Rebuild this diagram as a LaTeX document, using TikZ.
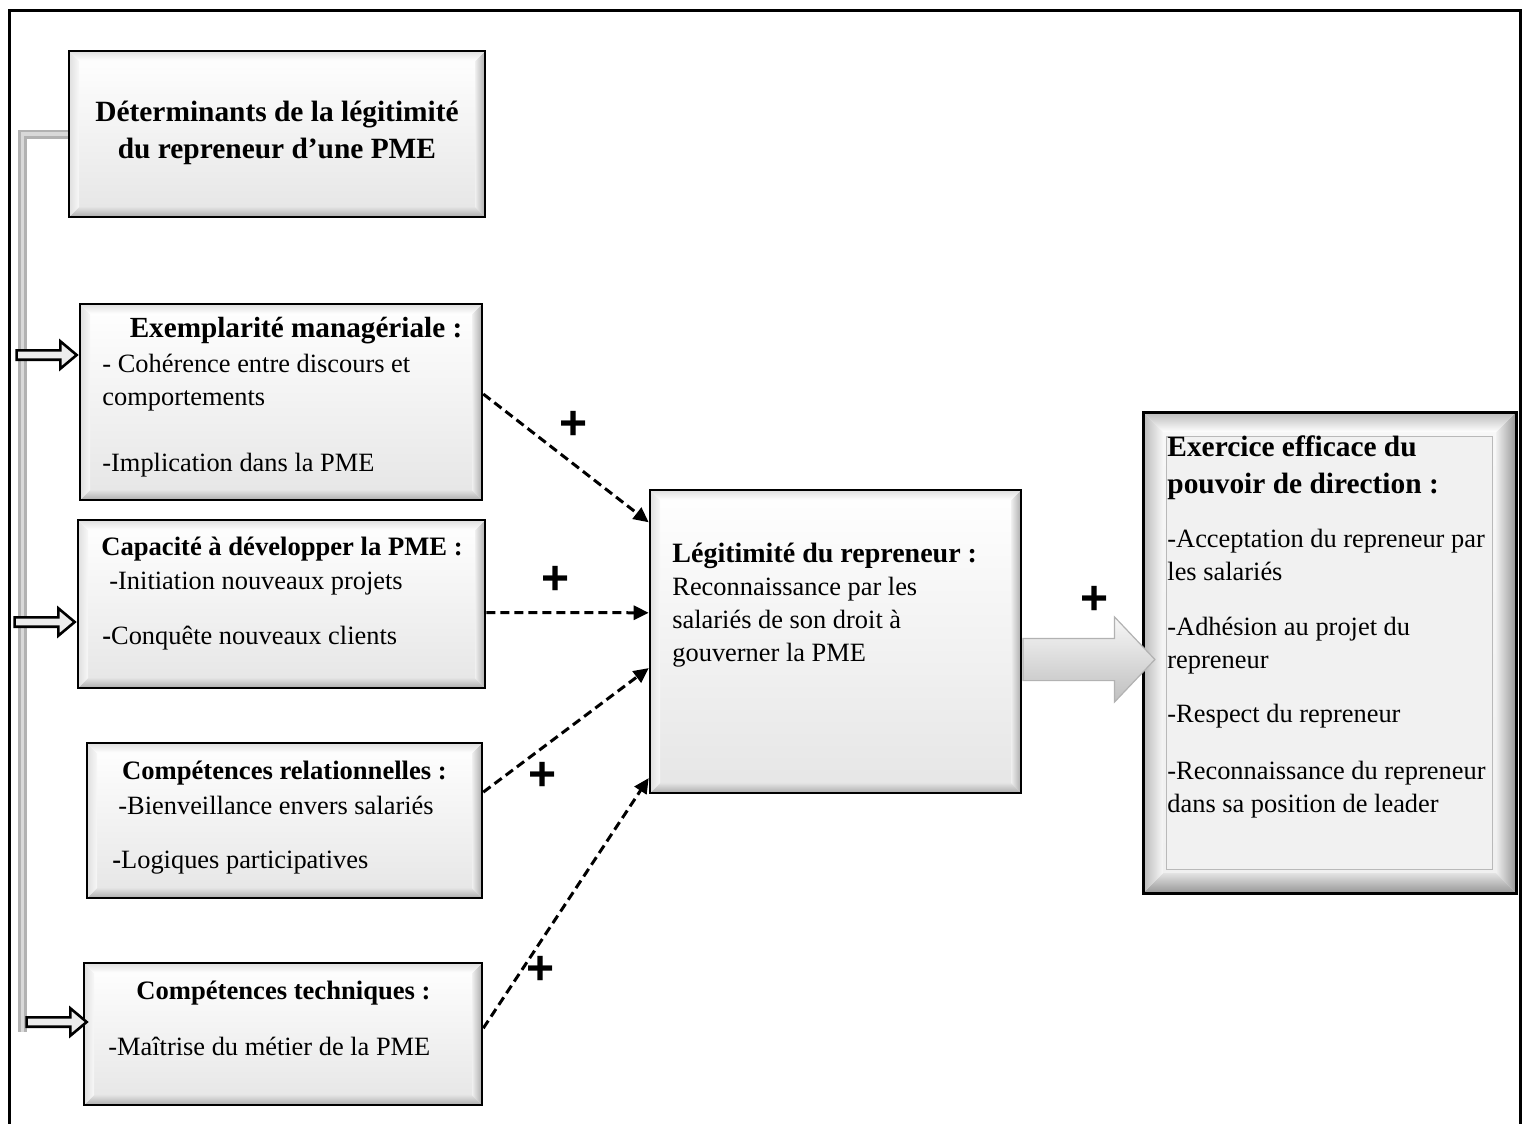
\documentclass[tikz,border=0pt]{standalone}
\usepackage{fontspec}
\setmainfont{Liberation Serif}
\newfontfamily\plusfont{Liberation Sans}
\usetikzlibrary{arrows.meta, shapes.arrows, calc, positioning}
% bevel: width, dark outer tone, light outer tone
\newcommand{\boxbevel}[3]{%
  \path (path picture bounding box.south west) coordinate (bsw)
        (path picture bounding box.north east) coordinate (bne)
        (bsw |- bne) coordinate (bnw) (bne |- bsw) coordinate (bse);
  \shade[top color=gray!22, bottom color=gray!#2] (bsw) -- (bse) -- ($(bse)+(-#1,#1)$) -- ($(bsw)+(#1,#1)$) -- cycle;
  \shade[left color=gray!#3, right color=gray!6] (bsw) -- (bnw) -- ($(bnw)+(#1,-#1)$) -- ($(bsw)+(#1,#1)$) -- cycle;
  \shade[left color=gray!12, right color=gray!#2] (bse) -- (bne) -- ($(bne)+(-#1,-#1)$) -- ($(bse)+(-#1,#1)$) -- cycle;
  \shade[top color=gray!#3, bottom color=white] (bnw) -- (bne) -- ($(bne)+(-#1,-#1)$) -- ($(bnw)+(#1,-#1)$) -- cycle;
}
\tikzset{
  every picture/.append style = {x=0.5pt, y=-0.5pt},
  bevelbox/.style  = {draw=black, line width=1.3pt, top color=white, bottom color=gray!20,
                      inner sep=0pt, path picture={\boxbevel{5pt}{65}{25}}},
  framebox/.style  = {draw=black, line width=1.5pt, top color=gray!6, bottom color=gray!12,
                      inner sep=0pt, path picture={\boxbevel{10pt}{82}{55}}},
  hdr/.style       = {font=\fontsize{14.7}{18.5}\selectfont\bfseries, align=center, inner sep=0pt},
  ttl/.style       = {font=\fontsize{13.3}{16.5}\selectfont\bfseries, inner sep=0pt},
  bodytxt/.style   = {font=\fontsize{13.2}{16.5}\selectfont, align=left, inner sep=0pt, anchor=north west},
  dasharr/.style   = {-{Triangle[length=7.5pt, width=7pt]}, dash pattern=on 4.5pt off 2.5pt, line width=1.5pt},
  feedarr/.style   = {single arrow, draw=black, fill=gray!15, line width=1.3pt, inner xsep=0pt, inner ysep=1.7pt,
                      minimum height=30pt, minimum width=12.5pt, single arrow head extend=4.5pt,
                      single arrow tip angle=80, anchor=tip},
  bigarr/.style    = {single arrow, draw=gray!60, line width=0.6pt, top color=gray!6, bottom color=gray!50,
                      inner xsep=0pt, inner ysep=10.25pt, minimum height=66pt, minimum width=42pt,
                      single arrow head extend=10.75pt, single arrow tip angle=93, anchor=tail},
  plussign/.style  = {font=\plusfont\bfseries\fontsize{24}{24}\selectfont, inner sep=0pt},
  pipe/.style      = {draw=gray!60, line width=4.5pt, line join=miter},
  pipehi/.style    = {draw=gray!30, line width=1.6pt, line join=miter},
  outerframe/.style = {line width=1.5pt},
}
\begin{document}
\begin{tikzpicture}
  \useasboundingbox (0,0) rectangle (1527,1124);
  % frame
  \draw[outerframe] (9,1124) -- (9,10) -- (1520,10) -- (1520,1124);
  % boxes
  \node[bevelbox, minimum width=208pt, minimum height=83pt] (hdr) at (277,134) {};
  \node[bevelbox, minimum width=201pt, minimum height=98pt] (exm) at (281,402) {};
  \node[bevelbox, minimum width=203.5pt, minimum height=84pt] (cap) at (281.5,604) {};
  \node[bevelbox, minimum width=197.5pt, minimum height=77.5pt] (rel) at (284.5,820.5) {};
  \node[bevelbox, minimum width=199pt, minimum height=71pt] (tech) at (283,1034) {};
  \node[bevelbox, minimum width=185.5pt, minimum height=151.5pt] (legit) at (835.5,641.5) {};
  \node[framebox, minimum width=186.5pt, minimum height=240.5pt] (exer) at (1329.5,652.5) {};
  \draw[draw=gray!55, line width=0.8pt, fill=gray!11]
    ($(exer.north west)+(12.5pt,-13pt)$) rectangle ($(exer.south east)+(-12.5pt,12.5pt)$);
  % pipe and feed arrows
  \coordinate (pipeend) at (22.5,1032);
  \draw[pipe] (hdr.west) -| (pipeend);
  \draw[pipehi, shift={(-0.7pt,0.7pt)}] (hdr.west) -| (pipeend);
  \node[feedarr] (feed1) at ([yshift=23.5pt]exm.west) {};
  \node[feedarr] (feed2) at ([yshift=-9pt]cap.west) {};
  \node[feedarr] (feed3) at ([xshift=3pt,yshift=6pt]tech.west) {};
  % texts
  \node[hdr] (hdrtxt) at (277,133) {Déterminants de la légitimité\\du repreneur d’une PME};
  \node[ttl, font=\fontsize{14.6}{16.5}\selectfont\bfseries] (exmttl) at (296,331) {Exemplarité managériale :};
  \node[bodytxt] (exmtxt) at (102,354) {- Cohérence entre discours et\\comportements\\[16.5pt]-Implication dans la PME};
  \node[ttl] (capttl) at (282,549) {Capacité à développer la PME :};
  \node[bodytxt] (captxt) at (109,572) {-Initiation nouveaux projets\\[11pt]\hspace*{-3.5pt}\textbf{-}Conquête nouveaux clients};
  \node[ttl] (relttl) at (284.5,773) {Compétences relationnelles :};
  \node[bodytxt] (reltxt) at (118,796) {-Bienveillance envers salariés\\[10.5pt]\hspace*{-3pt}\textbf{-}Logiques participatives};
  \node[ttl] (techttl) at (283.5,993) {Compétences techniques :};
  \node[bodytxt] (techtxt) at (108,1037) {-Maîtrise du métier de la PME};
  \node[bodytxt] (legtxt) at (672,543) {{\fontsize{14}{16.5}\selectfont\bfseries Légitimité du repreneur :}\\Reconnaissance par les\\salariés de son droit à\\gouverner la PME};
  \node[hdr, align=left, anchor=north west] (exerttl) at (1167,435) {Exercice efficace du\\pouvoir de direction :};
  \node[bodytxt] (exertxt) at (1167,529) {-Acceptation du repreneur par\\les salariés\\[11pt]-Adhésion au projet du\\repreneur\\[10.5pt]-Respect du repreneur\\[12pt]-Reconnaissance du repreneur\\dans sa position de leader};
  % links
  \draw[dasharr] ($(exm.north east)!0.46!(exm.south east)$) -- ($(legit.north west)!0.11!(legit.south west)$);
  \draw[dasharr] ($(cap.north east)!0.55!(cap.south east)$) -- ($(legit.north west)!0.406!(legit.south west)$);
  \draw[dasharr] ($(rel.north east)!0.32!(rel.south east)$) -- ($(legit.north west)!0.587!(legit.south west)$);
  \draw[dasharr] ($(tech.north east)!0.46!(tech.south east)$) -- ($(legit.north west)!0.947!(legit.south west)$);
  \node[bigarr] (bigarrow) at ([yshift=-9pt]legit.east) {};
  % signs
  \node[plussign] (plus1) at (574,425) {+};
  \node[plussign] (plus2) at (556,580) {+};
  \node[plussign] (plus3) at (543,776) {+};
  \node[plussign] (plus4) at (541,970) {+};
  \node[plussign] (plus5) at (1095,600) {+};
\end{tikzpicture}
\end{document}
